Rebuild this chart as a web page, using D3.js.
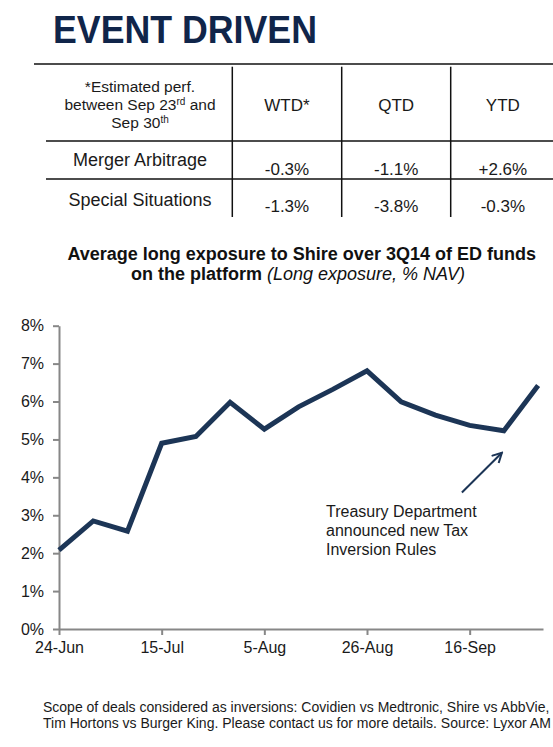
<!DOCTYPE html>
<html>
<head>
<meta charset="utf-8">
<script src="https://cdn.jsdelivr.net/npm/d3@7"></script>
<style>
  html, body { margin: 0; padding: 0; background: #ffffff; }
  svg { display: block; }
  text { font-family: "Liberation Sans", Arial, sans-serif; }
</style>
</head>
<body>
<div id="chart"></div>
<script>
// ---------- data ----------
const pageTitle = "EVENT DRIVEN";
const headerLines = [
  [{t: "*Estimated perf."}],
  [{t: "between Sep 23"}, {t: "rd", sup: true}, {t: " and"}],
  [{t: "Sep 30"}, {t: "th", sup: true}]
];
const periods = ["WTD*", "QTD", "YTD"];
const strategies = ["Merger Arbitrage", "Special Situations"];
const mergerArbPerf = ["-0.3%", "-1.1%", "+2.6%"];
const specialSitPerf = ["-1.3%", "-3.8%", "-0.3%"];

const chartTitle1 = "Average long exposure to Shire over 3Q14 of ED funds";
const chartTitle2Bold = "on the platform ";
const chartTitle2Italic = "(Long exposure, % NAV)";

const dates = ["2014-06-24","2014-07-01","2014-07-08","2014-07-15","2014-07-22",
               "2014-07-29","2014-08-05","2014-08-12","2014-08-19","2014-08-26",
               "2014-09-02","2014-09-09","2014-09-16","2014-09-23","2014-09-30"];
const exposure = [2.08, 2.85, 2.58, 4.90, 5.08, 5.98, 5.27, 5.86, 6.32, 6.81,
                  5.99, 5.64, 5.37, 5.23, 6.42];
const xTickDates = ["2014-06-24","2014-07-15","2014-08-05","2014-08-26","2014-09-16"];
const yTicks = [0, 1, 2, 3, 4, 5, 6, 7, 8];

const annotationLines = ["Treasury Department", "announced new Tax", "Inversion Rules"];
const annotationDate = "2014-09-23";

const footerLines = [
  "Scope of deals considered as inversions: Covidien vs Medtronic, Shire vs AbbVie,",
  "Tim Hortons vs Burger King. Please contact us for more details. Source: Lyxor AM"
];

// ---------- drawing ----------
const W = 553, H = 747;
const navy = "#1c3556";
const titleNavy = "#10254a";
const ink = "#1a1a1a";
const axisGrey = "#878787";

const svg = d3.select("#chart").append("svg")
  .attr("width", W).attr("height", H)
  .attr("viewBox", `0 0 ${W} ${H}`);

svg.append("rect").attr("width", W).attr("height", H).attr("fill", "#fff");

// Title
svg.append("text")
  .attr("x", 53).attr("y", 43.3)
  .attr("font-size", 39).attr("font-weight", "bold")
  .attr("fill", titleNavy)
  .attr("textLength", 264).attr("lengthAdjust", "spacingAndGlyphs")
  .text(pageTitle);

// Table
const table = svg.append("g");
const colEdges = [232.3, 341.7, 450.7, 555];
const colCenters = periods.map((d, i) => (colEdges[i] + colEdges[i + 1]) / 2);
const labelCenter = 140;

table.append("line").attr("x1", 34).attr("x2", W).attr("y1", 64).attr("y2", 64)
  .attr("stroke", "#111").attr("stroke-width", 1.5);
[141, 179].forEach(y => table.append("line").attr("x1", 46).attr("x2", W)
  .attr("y1", y).attr("y2", y).attr("stroke", "#111").attr("stroke-width", 1.5));
colEdges.slice(0, 3).forEach(x => table.append("line").attr("x1", x).attr("x2", x)
  .attr("y1", 66.7).attr("y2", 217).attr("stroke", "#111").attr("stroke-width", 1.5));

// header left cell
headerLines.forEach((parts, i) => {
  const t = table.append("text")
    .attr("x", labelCenter).attr("y", 91.7 + i * 18.3)
    .attr("text-anchor", "middle").attr("font-size", 15.5).attr("fill", ink);
  parts.forEach(p => {
    const ts = t.append("tspan").text(p.t);
    if (p.sup) ts.attr("font-size", 10).attr("dy", -5);
    else if (t.selectAll("tspan").size() > 1) ts.attr("dy", 5);
  });
});
// period headers
periods.forEach((p, i) => table.append("text")
  .attr("x", colCenters[i]).attr("y", 110.7)
  .attr("text-anchor", "middle").attr("font-size", 17).attr("fill", ink).text(p));
// rows
const perfRows = [mergerArbPerf, specialSitPerf];
const rowLabelY = [166, 205.7];
const rowValueY = [175, 211.7];
strategies.forEach((s, r) => {
  table.append("text").attr("x", labelCenter).attr("y", rowLabelY[r])
    .attr("text-anchor", "middle").attr("font-size", 18).attr("fill", ink).text(s);
  perfRows[r].forEach((v, i) => table.append("text")
    .attr("x", colCenters[i]).attr("y", rowValueY[r])
    .attr("text-anchor", "middle").attr("font-size", 17).attr("fill", ink).text(v));
});

// Chart title
const ct = svg.append("g").attr("font-weight", "bold").attr("fill", "#111");
ct.append("text").attr("x", 301.7).attr("y", 260).attr("text-anchor", "middle")
  .attr("font-size", 18).text(chartTitle1);
const ct2 = ct.append("text").attr("x", 298).attr("y", 279.5).attr("text-anchor", "middle")
  .attr("font-size", 18);
ct2.append("tspan").text(chartTitle2Bold);
ct2.append("tspan").attr("font-weight", "normal").attr("font-style", "italic").text(chartTitle2Italic);

// Line chart
const parse = d3.timeParse("%Y-%m-%d");
const data = dates.map((d, i) => ({date: parse(d), value: exposure[i]}));
const x = d3.scaleTime()
  .domain([parse("2014-06-24"), parse("2014-10-01")])
  .range([59, 543]);
const y = d3.scaleLinear().domain([0, 8]).range([629, 325.7]);

const fmtDate = d3.timeFormat("%-d-%b");
const xAxis = svg.append("g").attr("transform", `translate(0,${y(0)})`)
  .call(d3.axisBottom(x).tickValues(xTickDates.map(parse)).tickFormat(fmtDate)
    .tickSize(6).tickSizeOuter(0).tickPadding(7));
const yAxis = svg.append("g").attr("transform", `translate(${x(parse("2014-06-24"))},0)`)
  .call(d3.axisLeft(y).tickValues(yTicks).tickFormat(d => d + "%")
    .tickSize(6).tickSizeOuter(0).tickPadding(9));

[xAxis, yAxis].forEach(g => {
  g.select(".domain").attr("stroke", axisGrey).attr("stroke-width", 2);
  g.selectAll(".tick line").attr("stroke", axisGrey).attr("stroke-width", 2);
  g.selectAll(".tick text").attr("fill", ink).attr("font-size", 16)
    .attr("font-family", "'Liberation Sans', Arial, sans-serif");
});

svg.append("path").datum(data)
  .attr("fill", "none").attr("stroke", navy).attr("stroke-width", 5)
  .attr("stroke-linejoin", "miter")
  .attr("d", d3.line().x(d => x(d.date)).y(d => y(d.value)));

// Annotation
const ax = x(parse(annotationDate));
svg.append("defs").append("marker")
  .attr("id", "arrow").attr("viewBox", "0 0 12 12")
  .attr("refX", 10.5).attr("refY", 6)
  .attr("markerWidth", 12).attr("markerHeight", 12)
  .attr("markerUnits", "userSpaceOnUse").attr("orient", "auto")
  .append("path").attr("d", "M1,1 L10.5,6 L1,11")
  .attr("fill", "none").attr("stroke", navy).attr("stroke-width", 2);

svg.append("line")
  .attr("x1", ax - 42).attr("y1", y(3.6))
  .attr("x2", ax - 2).attr("y2", y(4.65))
  .attr("stroke", navy).attr("stroke-width", 2)
  .attr("marker-end", "url(#arrow)");

const ann = svg.append("text").attr("font-size", 16).attr("fill", ink);
annotationLines.forEach((l, i) => ann.append("tspan")
  .attr("x", 326).attr("y", y(2.95) + i * 18.8).text(l));

// Footer
footerLines.forEach((l, i) => svg.append("text")
  .attr("x", 43).attr("y", 712.3 + i * 16)
  .attr("font-size", 14).attr("fill", ink).text(l));
</script>
</body>
</html>
